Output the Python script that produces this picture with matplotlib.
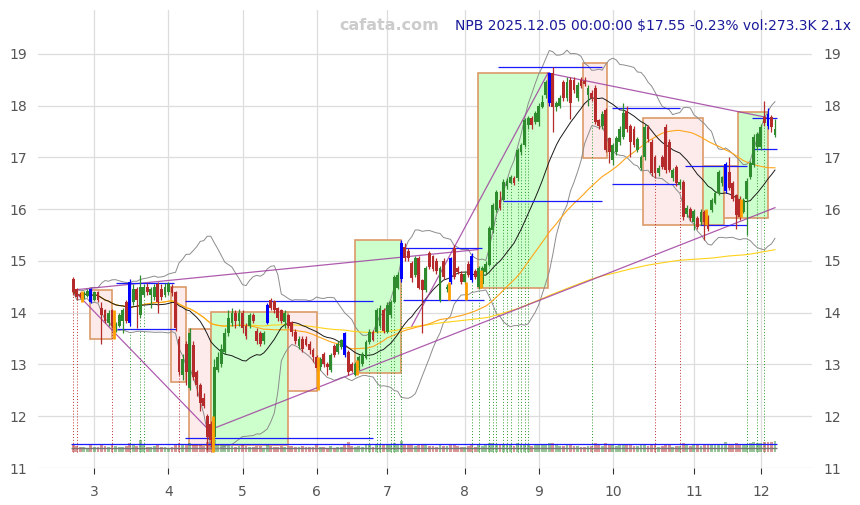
import numpy as np
import pandas as pd
import matplotlib
matplotlib.use('Agg')
import matplotlib.pyplot as plt
from matplotlib.patches import Rectangle

# daily candles, index 0 = first bar shown
opens = [14.65, 14.45, 14.35, 14.30, 14.32, 14.45, 14.25, 14.40, 14.10, 14.05,
         13.80, 14.05, 13.70, 13.75, 13.85, 14.20, 14.60, 14.20, 14.45, 13.95,
         14.35, 14.50, 14.35, 14.30, 14.55, 14.45, 14.35, 14.40, 14.50, 14.40,
         13.50, 12.80, 13.40, 12.55, 13.38, 12.85, 12.60, 12.35, 12.00, 11.85,
         11.60, 12.90, 13.00, 13.25, 13.60, 13.80, 14.00, 13.85, 14.00, 13.75,
         13.75, 13.95, 13.65, 13.60, 13.45, 13.80, 14.25, 14.22, 14.10, 14.05,
         13.82, 13.95, 13.82, 13.63, 13.35, 13.50, 13.50, 13.40, 13.28, 13.14,
         12.95, 13.20, 13.00, 12.90, 13.35, 13.25, 13.34, 13.60, 13.24, 13.00,
         12.80, 12.93, 13.00, 13.13, 13.43, 13.63, 13.63, 13.75, 14.05, 13.63,
         13.95, 14.20, 14.48, 14.65, 15.27, 15.20, 14.96, 14.73, 15.06, 14.63,
         14.44, 15.15, 15.10, 15.00, 14.24, 15.00, 14.45, 15.05, 15.25, 14.86,
         14.75, 14.60, 14.95, 15.10, 14.80, 14.50, 14.55, 14.79, 14.92, 15.60,
         15.98, 16.18, 16.18, 16.45, 16.51, 16.60, 16.60, 17.10, 17.24, 17.63,
         17.76, 17.68, 17.68, 17.98, 18.20, 18.05, 18.63, 17.98, 18.00, 18.46,
         18.15, 18.50, 18.50, 18.15, 18.50, 18.48, 18.20, 18.25, 18.34, 17.72,
         17.60, 17.92, 17.38, 16.95, 17.10, 17.30, 17.40, 17.90, 17.60, 17.55,
         17.15, 16.80, 17.00, 17.59, 17.30, 17.00, 16.70, 17.00, 17.59, 17.30,
         16.60, 16.82, 16.47, 16.53, 15.90, 16.00, 15.76, 15.83, 15.75, 15.95,
         15.85, 15.98, 16.12, 16.31, 16.50, 16.35, 16.72, 16.50, 16.27, 16.20,
         15.95, 16.20, 16.62, 16.86, 17.20, 17.20, 17.78, 17.85, 17.78, 17.44]
closes = [14.40, 14.30, 14.32, 14.38, 14.42, 14.20, 14.40, 14.25, 13.95, 13.85,
          14.00, 13.75, 13.78, 13.95, 14.05, 13.85, 13.80, 14.45, 14.25, 14.50,
          14.50, 14.40, 14.45, 14.50, 14.20, 14.30, 14.50, 14.55, 14.38, 13.70,
          12.85, 13.10, 12.85, 13.60, 12.76, 12.60, 12.25, 12.20, 11.60, 11.55,
          12.95, 13.15, 13.30, 13.60, 13.90, 14.00, 13.85, 14.00, 13.70, 13.55,
          13.95, 13.85, 13.45, 13.40, 13.60, 14.15, 14.10, 14.05, 13.90, 13.85,
          14.00, 13.75, 13.63, 13.45, 13.50, 13.30, 13.38, 13.28, 13.14, 12.93,
          13.10, 13.00, 12.95, 13.18, 13.18, 13.40, 13.47, 13.18, 12.85, 12.88,
          13.00, 13.14, 13.20, 13.43, 13.63, 13.48, 14.05, 14.10, 13.65, 14.15,
          14.20, 14.69, 14.73, 15.35, 15.06, 15.05, 14.67, 15.06, 14.48, 14.44,
          14.86, 14.88, 14.85, 14.80, 14.86, 14.70, 14.50, 14.60, 14.69, 14.78,
          14.60, 14.75, 14.73, 14.63, 14.70, 14.86, 14.86, 14.95, 15.64, 16.08,
          16.33, 16.02, 16.53, 16.55, 16.62, 16.50, 17.14, 17.24, 17.72, 17.76,
          17.63, 17.86, 18.00, 18.07, 18.46, 18.63, 17.98, 18.05, 18.15, 18.15,
          18.46, 18.05, 18.30, 18.40, 18.38, 18.42, 18.35, 18.15, 17.69, 17.60,
          17.85, 17.14, 17.10, 17.24, 17.38, 17.55, 17.86, 17.55, 17.30, 17.25,
          17.35, 17.00, 17.59, 17.35, 16.70, 16.70, 16.80, 16.82, 16.76, 16.76,
          16.76, 16.50, 16.53, 15.85, 16.03, 15.83, 15.97, 15.66, 15.95, 15.75,
          15.62, 16.18, 16.31, 16.72, 16.62, 16.88, 16.41, 16.20, 15.89, 15.85,
          16.18, 16.55, 16.89, 17.40, 17.45, 17.59, 17.67, 17.60, 17.59, 17.55]
highs = [14.70, 14.48, 14.40, 14.42, 14.45, 14.48, 14.42, 14.42, 14.20, 14.08,
         14.05, 14.08, 13.82, 14.00, 14.10, 14.25, 14.65, 14.55, 14.50, 14.73,
         14.55, 14.58, 14.50, 14.55, 14.60, 14.55, 14.58, 14.60, 14.55, 14.42,
         13.55, 13.20, 13.45, 13.70, 13.45, 12.90, 12.65, 12.45, 12.05, 11.90,
         13.10, 13.25, 13.40, 13.70, 14.05, 14.10, 14.05, 14.08, 14.05, 13.80,
         14.00, 14.00, 13.70, 13.65, 13.65, 14.18, 14.28, 14.25, 14.12, 14.08,
         14.05, 13.98, 13.85, 13.68, 13.55, 13.55, 13.55, 13.45, 13.32, 13.18,
         13.15, 13.25, 13.05, 13.22, 13.40, 13.45, 13.50, 13.62, 13.28, 13.05,
         13.05, 13.18, 13.25, 13.48, 13.68, 13.66, 14.10, 14.15, 14.10, 14.20,
         14.25, 14.72, 14.78, 15.40, 15.35, 15.25, 15.00, 15.10, 15.10, 14.66,
         14.90, 15.20, 15.12, 15.05, 14.90, 15.05, 14.55, 15.08, 15.30, 14.90,
         14.80, 14.80, 15.00, 15.15, 14.85, 14.90, 14.90, 15.00, 15.68, 16.12,
         16.38, 16.35, 16.58, 16.60, 16.66, 16.64, 17.18, 17.28, 17.76, 17.80,
         17.80, 17.90, 18.05, 18.20, 18.50, 18.66, 18.75, 18.10, 18.20, 18.50,
         18.55, 18.55, 18.55, 18.45, 18.55, 18.55, 18.40, 18.30, 18.40, 17.75,
         17.90, 17.95, 17.40, 17.28, 17.42, 17.60, 18.05, 18.00, 17.65, 17.60,
         17.40, 17.05, 17.65, 17.62, 17.35, 17.05, 16.85, 17.05, 17.65, 17.35,
         16.80, 16.86, 16.58, 16.56, 16.08, 16.05, 16.00, 15.86, 16.00, 15.98,
         15.88, 16.22, 16.35, 16.76, 16.65, 16.92, 17.00, 16.55, 16.30, 16.25,
         16.22, 16.60, 16.93, 17.45, 17.50, 17.65, 18.10, 17.95, 17.82, 17.75]
lows = [14.35, 14.25, 14.28, 14.27, 14.30, 14.18, 14.22, 14.20, 13.40, 13.80,
        13.75, 13.70, 13.62, 13.72, 13.60, 13.80, 13.75, 14.15, 13.70, 13.90,
        14.30, 14.35, 14.10, 14.25, 14.00, 14.25, 14.30, 14.35, 14.33, 13.65,
        12.80, 12.70, 12.60, 12.50, 12.70, 12.40, 12.10, 12.15, 11.35, 11.40,
        11.55, 12.85, 12.95, 13.20, 13.55, 13.75, 13.70, 13.75, 13.60, 13.50,
        13.70, 13.80, 13.40, 13.35, 13.40, 13.78, 14.05, 14.00, 13.85, 13.80,
        13.70, 13.70, 13.55, 13.40, 13.30, 13.25, 13.35, 13.20, 13.05, 12.88,
        12.90, 12.95, 12.80, 12.85, 13.15, 13.20, 13.30, 13.15, 12.80, 12.85,
        12.78, 12.90, 12.98, 13.10, 13.40, 13.45, 13.60, 13.70, 13.60, 13.60,
        13.90, 14.18, 14.45, 14.60, 15.00, 15.00, 14.60, 14.70, 14.45, 13.60,
        14.40, 14.85, 14.80, 14.75, 14.20, 14.65, 14.40, 14.55, 14.65, 14.75,
        14.55, 14.55, 14.70, 14.60, 14.65, 14.45, 14.50, 14.75, 14.90, 15.55,
        15.95, 15.98, 16.15, 16.40, 16.48, 16.47, 16.55, 17.05, 17.20, 17.55,
        17.55, 17.64, 17.60, 17.95, 18.15, 18.00, 17.49, 17.90, 17.95, 18.10,
        18.10, 17.75, 18.25, 18.10, 18.35, 18.38, 18.00, 18.10, 17.65, 17.55,
        17.55, 17.10, 16.90, 16.85, 17.05, 17.25, 17.35, 17.50, 17.00, 17.20,
        17.10, 16.75, 16.95, 17.30, 16.65, 16.60, 16.65, 16.78, 16.70, 16.72,
        16.55, 16.45, 16.40, 15.80, 15.85, 15.78, 15.60, 15.62, 15.70, 15.40,
        15.58, 15.95, 16.10, 16.28, 16.45, 16.32, 16.38, 16.15, 15.62, 15.80,
        15.92, 15.50, 16.58, 16.82, 17.15, 17.15, 17.60, 17.55, 17.50, 17.40]
volumes = [150, 120, 110, 100, 95, 140, 105, 110, 160, 130,
           115, 150, 120, 105, 110, 130, 180, 140, 120, 240,
           150, 110, 100, 120, 140, 115, 100, 95, 105, 160,
           190, 150, 170, 180, 160, 150, 140, 130, 200, 210,
           240, 170, 140, 150, 150, 130, 110, 120, 140, 120,
           110, 100, 130, 125, 95, 160, 120, 110, 115, 125,
           105, 120, 130, 115, 100, 120, 110, 105, 115, 140,
           100, 110, 95, 120, 90, 105, 100, 150, 200, 130,
           110, 120, 105, 140, 150, 110, 170, 160, 140, 150,
           150, 190, 160, 230, 170, 140, 150, 130, 160, 170,
           140, 130, 120, 115, 150, 130, 130, 170, 160, 120,
           110, 115, 130, 150, 100, 140, 130, 140, 190, 180,
           170, 140, 160, 150, 140, 120, 180, 150, 170, 140,
           130, 140, 160, 140, 160, 190, 190, 140, 130, 120,
           140, 150, 120, 130, 110, 105, 130, 120, 180, 140,
           130, 180, 150, 140, 130, 140, 150, 140, 140, 130,
           120, 140, 170, 130, 160, 140, 110, 120, 150, 140,
           110, 130, 120, 180, 140, 130, 140, 140, 130, 150,
           140, 160, 150, 170, 140, 200, 160, 150, 180, 160,
           140, 170, 180, 210, 190, 180, 200, 210, 200, 220]

blue_bars = [5, 16, 55, 77, 93, 107, 113, 135, 185, 197]
orange_marks = [(2, 14.20, 14.42), (11, 13.50, 14.05), (39, 11.30, 12.0), (69, 12.50, 13.14),
                (80, 12.80, 13.09), (106, 14.25, 14.60), (111, 14.25, 14.60), (115, 14.48, 14.83),
                (179, 15.70, 16.00), (189, 15.85, 16.20)]
red_sig = [0, 1, 11, 30, 38, 39, 165, 172]
green_sig = [16, 19, 20, 84, 86, 87, 90, 91, 93, 113, 115, 118, 119, 120, 122, 123,
             124, 126, 127, 128, 129, 147, 191, 194, 196]

month_pos = [6, 27, 48, 69, 89, 111, 132, 153, 176, 195]
month_lbl = ['3', '4', '5', '6', '7', '8', '9', '10', '11', '12']

# swing boxes: start, end, low, high, up?
boxes = [(4.8, 11.0, 13.50, 14.44, False), (27.8, 32.0, 12.66, 14.50, False),
         (32.8, 39.0, 11.44, 13.69, False), (39.0, 61.0, 11.44, 14.01, True),
         (61.0, 69.2, 12.49, 14.01, False), (80.0, 93.0, 12.84, 15.41, True),
         (114.7, 134.6, 14.48, 18.63, True), (144.5, 151.5, 16.99, 18.83, False),
         (161.5, 178.5, 15.70, 17.76, False), (178.5, 184.5, 15.70, 16.84, True),
         (184.5, 188.5, 15.83, 16.84, False), (188.5, 197.0, 15.83, 17.88, True)]

# support / resistance segments: start, end, price
levels = [(12.0, 28.5, 14.57), (12.5, 29.0, 13.68), (31.7, 85.0, 14.23), (31.7, 85.0, 11.58),
          (93.5, 116.0, 15.25), (93.5, 116.5, 14.25), (120.5, 150.0, 18.75), (122.0, 150.0, 16.16),
          (152.7, 172.0, 17.96), (152.7, 172.0, 16.49), (173.6, 191.0, 16.84), (177.6, 191.0, 15.70),
          (192.6, 199.5, 17.76), (192.6, 199.5, 17.16), (-0.5, 199.5, 11.46)]

trend_lines = [((0, 14.44), (38.5, 11.73)), ((38.5, 11.73), (199, 16.03)),
               ((0, 14.44), (114.7, 15.22)), ((96, 13.74), (134.6, 18.63)),
               ((134.6, 18.63), (197, 17.77))]

up_col = '#2e8b2e'
dn_col = '#b52a2a'

fig = plt.figure(figsize=(8.6, 5.05), dpi=100)
ax = fig.add_axes([38 / 860, 37 / 505, 774 / 860, 458 / 505])

x = np.arange(len(closes))
s = pd.Series(closes)
ma20 = s.rolling(20, min_periods=1).mean()
ma50 = s.rolling(50, min_periods=1).mean()
ma200 = s.rolling(200, min_periods=1).mean()
sd20 = s.rolling(20, min_periods=2).std(ddof=0).fillna(0)

# boxes
for b0, b1, lo, hi, up in boxes:
    ax.add_patch(Rectangle((b0, lo), b1 - b0, hi - lo,
                           facecolor='#ccffcc' if up else '#fdebeb',
                           edgecolor='#dc9a68', lw=1.2, zorder=1))

# volume at bottom
vol_base = 11.30
vol_h = np.array(volumes) * 0.001
vcol = [up_col if c >= o else dn_col for o, c in zip(opens, closes)]
ax.bar(x, vol_h, bottom=vol_base, width=0.8, color=vcol, alpha=0.5, zorder=2)
ax.hlines(11.385, -0.5, 199.5, color='#777777', lw=1.0, zorder=2)

# signal verticals
for i in red_sig:
    ax.vlines(i, vol_base, lows[i], color='#c03030', lw=0.7, linestyles=(0, (1, 2)), zorder=2)
for i in green_sig:
    ax.vlines(i, vol_base, lows[i], color='#2e9b2e', lw=0.7, linestyles=(0, (1, 2)), zorder=2)

# bands and moving averages
ax.plot(x, ma20 + 2 * sd20, color='#8c8c8c', lw=0.7, zorder=3)
ax.plot(x, ma20 - 2 * sd20, color='#8c8c8c', lw=0.7, zorder=3)
ax.plot(x, ma200, color='#ffd21a', lw=0.8, zorder=3)
ax.plot(x, ma50, color='#ffa51a', lw=0.8, zorder=3)
ax.plot(x, ma20, color='#1a1a1a', lw=0.7, zorder=3)

for (x0, y0), (x1, y1) in trend_lines:
    ax.plot([x0, x1], [y0, y1], color='#a040a0', lw=0.9, alpha=0.85, zorder=4)

for l0, l1, p in levels:
    ax.hlines(p, l0, l1, color='#1a1aff', lw=0.9, zorder=4)

# candles
for i in range(len(closes)):
    o, c = opens[i], closes[i]
    col = up_col if c >= o else dn_col
    if i in blue_bars:
        col = '#0000ff'
    ax.vlines(i, lows[i], highs[i], color=col, lw=0.9, zorder=5)
    h = c - o if abs(c - o) > 0.02 else 0.02
    ax.bar(i, h, bottom=o, width=0.8, color=col, zorder=5)

for i, lo, hi in orange_marks:
    ax.vlines(i + 0.5, lo, hi, color='#ffa000', lw=2, zorder=6)

ax.set_xlim(-10, 209.5)
ax.set_ylim(11, 19.85)
ax.set_xticks(month_pos)
ax.set_xticklabels(month_lbl)
ax.set_yticks(range(11, 20))
ax.grid(True, color='#dddddd', lw=0.9, zorder=0)
ax.set_axisbelow(True)
for sp in ax.spines.values():
    sp.set_visible(False)
ax.tick_params(axis='x', length=4, width=0.8, color='#333333', labelcolor='#555555', labelsize=10, pad=8)
ax.tick_params(axis='y', length=0, labelcolor='#555555', labelsize=10, labelright=True, pad=8)

fig.text(389 / 860, 1 - 26 / 505, 'cafata.com', color='#cccccc', fontsize=11.5,
         fontweight='bold', ha='center', va='center')
fig.text(455 / 860, 1 - 26 / 505, 'NPB 2025.12.05 00:00:00 $17.55 -0.23% vol:273.3K 2.1x',
         color='#1a1a9a', fontsize=10, ha='left', va='center')

fig.savefig('out.png', dpi=100)
